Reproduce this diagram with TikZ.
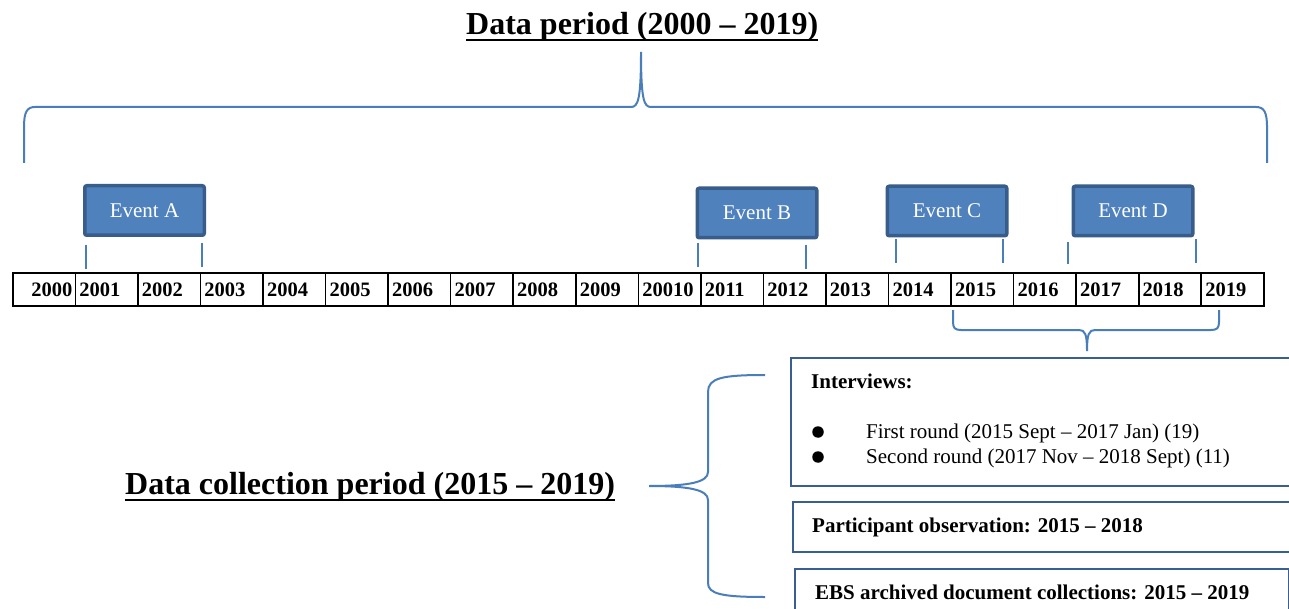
\documentclass[tikz,border=0pt]{standalone}
\usepackage{fontspec}
\setmainfont{Liberation Serif}
\definecolor{bracecol}{HTML}{4A7EBB}
\definecolor{evfill}{HTML}{4F81BD}
\definecolor{evborder}{HTML}{385D8A}
\definecolor{boxborder}{HTML}{3B5E91}
\begin{document}
\begin{tikzpicture}[x=1pt,y=-1pt,
  cell/.style={draw=black,line width=1.6pt,rectangle,minimum width=62.55pt,minimum height=33pt,
    inner sep=0pt,text width=54.55pt,align=left,font=\fontsize{20.5}{24}\selectfont\bfseries},
  cellr/.style={cell,align=right,text width=56.55pt},
  evt/.style={rectangle,rounded corners=2pt,fill=evfill,draw=evborder,line width=3.5pt,
    minimum width=119.5pt,minimum height=49.5pt,inner sep=0pt,text=white,
    font=\fontsize{21}{25}\selectfont},
  tickln/.style={draw=bracecol,line width=2pt},
  bracel/.style={draw=bracecol,line width=2pt},
  infobox/.style={draw=boxborder,line width=2pt,rectangle,inner sep=0pt,anchor=north west},
  bigtitle/.style={anchor=base west,inner sep=0pt,font=\fontsize{32}{38}\selectfont\bfseries},
  bodytxt/.style={anchor=base west,inner sep=0pt,font=\fontsize{21}{25}\selectfont},
  bodybold/.style={bodytxt,font=\fontsize{21}{25}\selectfont\bfseries},
  bullet/.style={circle,fill=black,inner sep=0pt,minimum size=11.5pt}
]
\useasboundingbox (0,0) rectangle (1289,609);
\clip (0,0) rectangle (1289,609);
\fill[white] (0,0) rectangle (1289,609);

% titles
\node[bigtitle] (title) at (466,35) {Data period (2000 -- 2019)};
\draw[line width=2pt] ([yshift=-5pt]title.base west) -- ([yshift=-5pt]title.base east);
\node[bigtitle] (ctitle) at (125,494) {Data collection period (2015 -- 2019)};
\draw[line width=2pt] ([yshift=-5.5pt]ctitle.base west) -- ([yshift=-5.5pt]ctitle.base east);

% top brace
\coordinate (tbL) at (24,163);
\coordinate (tbTip) at (641,52);
\coordinate (tbR) at (1267,163);
\draw[bracel] (tbL) -- (24,127) .. controls (24,112) and (27,107) .. (35,107)
  -- (631,107) .. controls (638,107) and (641,100) .. (tbTip)
  .. controls (641,100) and (644,107) .. (651,107)
  -- (1256,107) .. controls (1264,107) and (1267,112) .. (1267,127) -- (tbR);

% timeline
\foreach \lab [count=\i from 0] in {2000,2001,2002,2003,2004,2005,2006,2007,2008,2009,20010,2011,2012,2013,2014,2015,2016,2017,2018,2019}{
  \ifnum\i=0
    \node[cellr,anchor=north west] (y\i) at ({12+\i*62.55},272) {\lab};
  \else
    \node[cell,anchor=north west] (y\i) at ({12+\i*62.55},272) {\lab};
  \fi
}

% events
\node[evt] (evA) at (144.5,210.5) {Event A};
\node[evt] (evB) at (757,213) {Event B};
\node[evt] (evC) at (947,211) {Event C};
\node[evt] (evD) at (1133,211) {Event D};

% ticks
\coordinate (a1t) at (86,245);  \coordinate (a1b) at (86,269);
\coordinate (a2t) at (202,243); \coordinate (a2b) at (202,267);
\coordinate (b1t) at (698,243); \coordinate (b1b) at (698,267);
\coordinate (b2t) at (806,245); \coordinate (b2b) at (806,269);
\coordinate (c1t) at (896,239); \coordinate (c1b) at (896,263);
\coordinate (c2t) at (1003,239);\coordinate (c2b) at (1003,263);
\coordinate (d1t) at (1068,242);\coordinate (d1b) at (1068,264);
\coordinate (d2t) at (1196,239);\coordinate (d2b) at (1196,263);
\foreach \p in {a1,a2,b1,b2,c1,c2,d1,d2}{\draw[tickln] (\p t) -- (\p b);}

% lower brace under 2015-2019
\coordinate (lbL) at (953,310);
\coordinate (lbTip) at (1087,351);
\coordinate (lbR) at (1219,310);
\draw[bracel] (lbL) -- (953,322) .. controls (953,328) and (955,330) .. (961,330)
  -- (1079,330) .. controls (1085,330) and (1087,334) .. (lbTip)
  .. controls (1087,334) and (1089,330) .. (1095,330)
  -- (1211,330) .. controls (1217,330) and (1219,328) .. (1219,322) -- (lbR);

% left curly brace
\coordinate (cbT) at (765,375);
\coordinate (cbTip) at (649,486);
\coordinate (cbB) at (765,597);
\draw[bracel] (cbT) .. controls (722,375) and (708,378) .. (708,392)
  -- (708,472) .. controls (708,482) and (690,486) .. (cbTip)
  .. controls (690,486) and (708,490) .. (708,500)
  -- (708,583) .. controls (708,594) and (722,597) .. (cbB);

% info boxes
\node[infobox,minimum width=540pt,minimum height=128pt] (ibox) at (790,357) {};
\node[infobox,minimum width=540pt,minimum height=50pt] (pbox) at (791.5,501) {};
\node[infobox,minimum width=494pt,minimum height=60pt] (ebox) at (794,568) {};

\node[bodybold] (intv) at (811,388) {Interviews:};
\node[bullet] (bul1) at (818,432) {};
\node[bullet] (bul2) at (818,457) {};
\node[bodytxt] (r1) at (866,438) {First round (2015 Sept -- 2017 Jan) (19)};
\node[bodytxt] (r2) at (866,463) {Second round (2017 Nov -- 2018 Sept) (11)};
\node[bodybold] (pobs) at (812,532) {Participant observation: 2015 -- 2018};
\node[bodybold] (ebs) at (815,599) {EBS archived document collections: 2015 -- 2019};
\end{tikzpicture}
\end{document}
